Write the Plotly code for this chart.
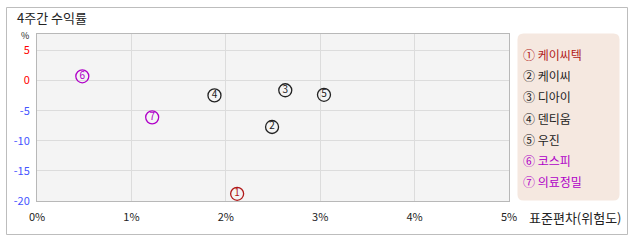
import plotly.graph_objects as go

# ---- data ----
names = ["케이씨텍", "케이씨", "디아이", "덴티움", "우진", "코스피", "의료정밀"]
numbers = ["1", "2", "3", "4", "5", "6", "7"]
circled = ["①", "②", "③", "④", "⑤", "⑥", "⑦"]
std_dev = [2.12, 2.49, 2.63, 1.88, 3.04, 0.48, 1.22]      # 표준편차 (%)
returns = [-18.8, -7.7, -1.6, -2.45, -2.35, 0.72, -6.1]    # 4주간 수익률 (%)
colors = ["#b01818", "#222222", "#222222", "#222222", "#222222", "#b000c8", "#b000c8"]

x_ticks = [0, 1, 2, 3, 4, 5]
x_tick_labels = ["0%", "1%", "2%", "3%", "4%", "5%"]
y_ticks = [5, 0, -5, -10, -15, -20]

W, H = 638, 242
L, R, T, B = 37, 509, 34, 201
FONT = "Noto Sans CJK KR"

def px(x):
    return (x - L) / (R - L)

def py(y):
    return (B - y) / (B - T)

fig = go.Figure()
fig.add_trace(go.Scatter(
    x=std_dev, y=returns, mode="markers+text",
    text=numbers, textposition="middle center",
    textfont=dict(family=FONT, size=10, color=colors),
    marker=dict(symbol="circle-open", size=13, color=colors, line=dict(width=1.3, color=colors)),
    showlegend=False, hoverinfo="skip", cliponaxis=False,
))

y_tick_text = [
    f"<span style='color:{'#ff0000' if v >= 0 else '#4455ff'}'>{v}</span>" for v in y_ticks
]

fig.update_layout(
    width=W, height=H,
    margin=dict(l=L, r=W - R, t=T, b=H - B),
    paper_bgcolor="white", plot_bgcolor="#f4f4f4",
    font=dict(family=FONT, size=11, color="#222222"),
    xaxis=dict(range=[0, 5], tickvals=x_ticks, ticktext=x_tick_labels,
               showgrid=True, gridcolor="#dcdcdc", gridwidth=1,
               zeroline=False, showline=True, linecolor="#b8b8b8", mirror=True,
               ticks="", tickfont=dict(size=11, color="#222222"), ticklabelstandoff=6),
    yaxis=dict(range=[-20, 7.75], tickvals=y_ticks, ticktext=y_tick_text,
               showgrid=True, gridcolor="#dcdcdc", gridwidth=1,
               zeroline=False, showline=True, linecolor="#b8b8b8", mirror=True,
               ticks="", tickfont=dict(size=11), ticklabelstandoff=4),
)

shapes = []
# outer border
shapes.append(dict(type="rect", xref="paper", yref="paper",
                   x0=px(6.5), x1=px(627.5), y0=py(234.5), y1=py(7.5),
                   line=dict(color="#bdbdbd", width=1), fillcolor="rgba(0,0,0,0)", layer="below"))

# legend box (rounded)
bx0, bx1, by0, by1, r = 517.5, 619.5, 33.5, 200.5, 6
path = (f"M {px(bx0 + r)} {py(by0)} L {px(bx1 - r)} {py(by0)} "
        f"Q {px(bx1)} {py(by0)} {px(bx1)} {py(by0 + r)} "
        f"L {px(bx1)} {py(by1 - r)} Q {px(bx1)} {py(by1)} {px(bx1 - r)} {py(by1)} "
        f"L {px(bx0 + r)} {py(by1)} Q {px(bx0)} {py(by1)} {px(bx0)} {py(by1 - r)} "
        f"L {px(bx0)} {py(by0 + r)} Q {px(bx0)} {py(by0)} {px(bx0 + r)} {py(by0)} Z")
shapes.append(dict(type="path", xref="paper", yref="paper", path=path,
                   line=dict(width=0), fillcolor="#f5e8e0", layer="below"))
fig.update_layout(shapes=shapes)

ann = []
ann.append(dict(x=px(15), y=py(18), xref="paper", yref="paper", text="4주간 수익률",
                showarrow=False, xanchor="left", yanchor="middle",
                font=dict(size=13, color="#222222")))
ann.append(dict(x=px(25), y=py(35), xref="paper", yref="paper", text="%",
                showarrow=False, xanchor="center", yanchor="middle",
                font=dict(size=9, color="#222222")))
ann.append(dict(x=px(527), y=py(217), xref="paper", yref="paper", text="표준편차(위험도)",
                showarrow=False, xanchor="left", yanchor="middle",
                font=dict(size=13, color="#222222")))
for i, (c, n, col) in enumerate(zip(circled, names, colors)):
    ann.append(dict(x=px(521), y=py(54.5 + i * 21.2), xref="paper", yref="paper",
                    text=f"{c} {n}", showarrow=False, xanchor="left", yanchor="middle",
                    font=dict(size=12, color=col)))
fig.update_layout(annotations=ann)

fig.write_html("out.html")
